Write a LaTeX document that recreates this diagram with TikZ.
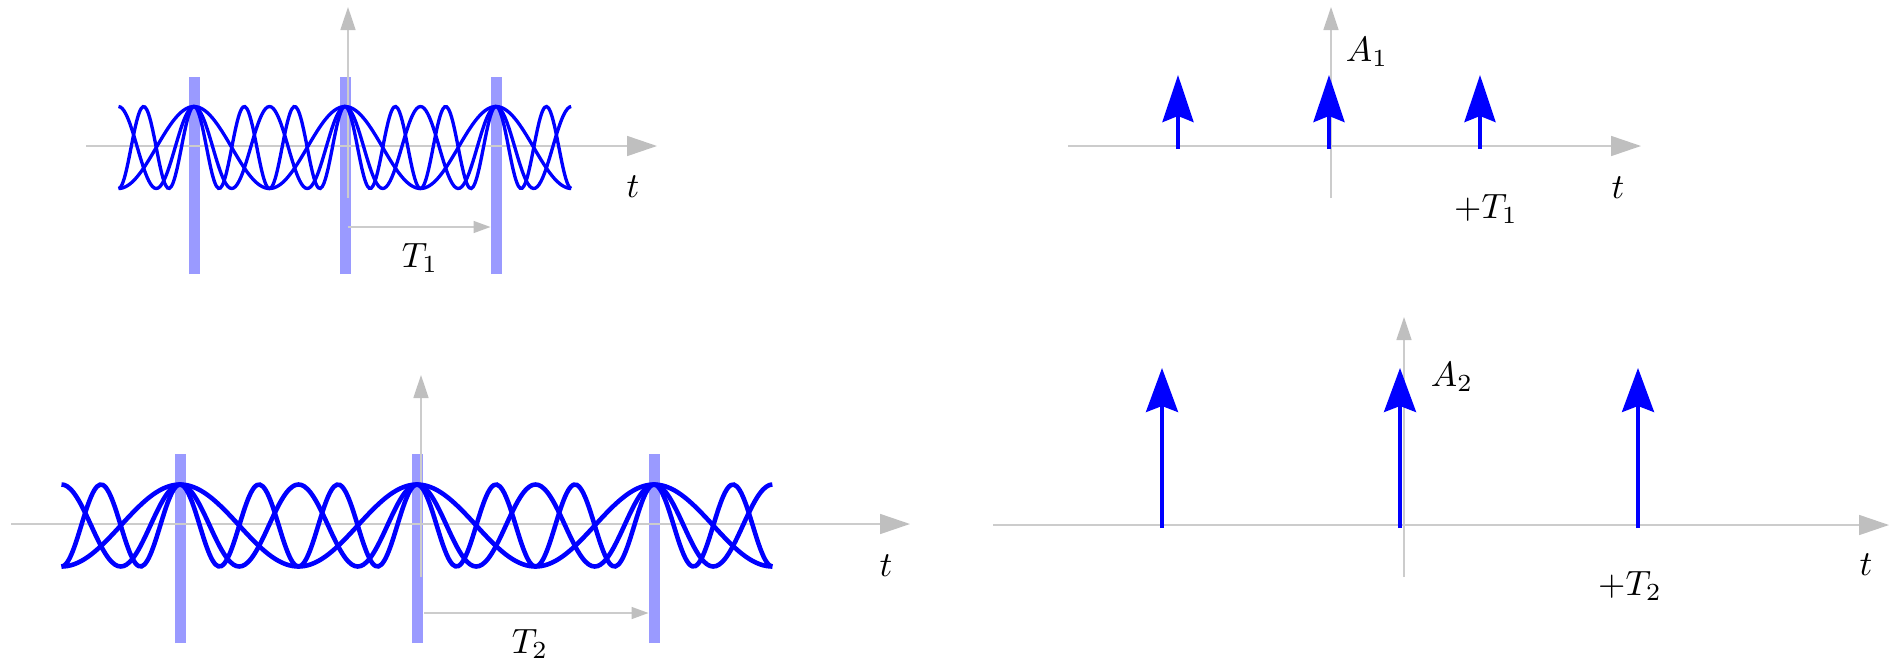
\documentclass[tikz,border=0pt]{standalone}
\usepackage{amsmath}
\usetikzlibrary{arrows.meta}
\definecolor{WaveBlue}{HTML}{0000FF}
\definecolor{BarBlue}{HTML}{9A9AFF}
\definecolor{AxisGray}{HTML}{CCCCCC}
\definecolor{TipGray}{HTML}{BFBFBF}
\tikzset{
  axisline/.style={draw=AxisGray, line width=0.45pt},
  xaxis/.style={axisline, -{Triangle[length=3.0mm,width=2.0mm,color=TipGray]}},
  yaxis/.style={axisline, -{Triangle[length=2.3mm,width=1.5mm,color=TipGray]}},
  periodarrow/.style={axisline, -{Triangle[length=1.7mm,width=1.2mm,color=TipGray]}},
  pulsebar/.style={draw=BarBlue, line width=0.11cm},
  waveline/.style={draw=WaveBlue, smooth, samples=241},
  spike/.style={draw=WaveBlue},
  lbl/.style={inner sep=0pt}
}

\begin{document}
\begin{tikzpicture}[x=1cm,y=1cm]
  \useasboundingbox (0,0) rectangle (18.97,6.63);

  \begin{scope}[shift={(3.45,5.17)}]
    \foreach \n in {-1,0,1}
      \draw[pulsebar] (1.51*\n,-1.28) -- (1.51*\n,0.69);
    \draw[xaxis] (-2.59,0) -- (3.12,0);
    \draw[yaxis] (0.03,-0.52) -- (0.03,1.39);
    \foreach \k in {1,2,3}
      \draw[waveline, line width=0.95pt] plot[domain=-2.265:2.265] (\x,{0.41*cos(360*\k*\x/1.51)-0.015});
    \coordinate (zeroA) at (0.03,-0.81);
    \coordinate (stepA) at (1.455,-0.81);
    \draw[periodarrow] (zeroA) -- (stepA);
    \node[lbl] (timeA) at (2.88,-0.41) {$t$};
    \node[lbl] (periodA) at (0.75,-1.12) {$T_1$};
  \end{scope}

  \begin{scope}[shift={(4.17,1.39)}]
    \foreach \n in {-1,0,1}
      \draw[pulsebar] (2.37*\n,-1.19) -- (2.37*\n,0.70);
    \draw[xaxis] (-4.06,0) -- (4.93,0);
    \draw[yaxis] (0.04,-0.53) -- (0.04,1.49);
    \foreach \k in {1,2,3}
      \draw[waveline, line width=1.3pt] plot[domain=-3.555:3.555] (\x,{0.41*cos(360*\k*\x/2.37)-0.015});
    \coordinate (zeroB) at (0.07,-0.89);
    \coordinate (stepB) at (2.315,-0.89);
    \draw[periodarrow] (zeroB) -- (stepB);
    \node[lbl] (timeB) at (4.69,-0.42) {$t$};
    \node[lbl] (periodB) at (1.13,-1.20) {$T_2$};
  \end{scope}

  \begin{scope}[shift={(13.29,5.17)}]
    \draw[xaxis] (-2.61,0) -- (3.12,0);
    \draw[yaxis] (0.02,-0.52) -- (0.02,1.39);
    \foreach \n in {-1,0,1}
      \draw[spike, line width=1.15pt, -{Stealth[length=4.7mm,width=3.1mm,inset=0.6mm]}] (1.51*\n,-0.03) -- (1.51*\n,0.71);
    \node[lbl] (ampC) at (0.38,0.94) {$A_1$};
    \node[lbl] (shiftC) at (1.57,-0.63) {$\mathbf{+}T_1$};
    \node[lbl] (timeC) at (2.89,-0.42) {$t$};
  \end{scope}

  \begin{scope}[shift={(14.00,1.38)}]
    \draw[xaxis] (-4.07,0) -- (4.89,0);
    \draw[yaxis] (0.04,-0.52) -- (0.04,2.08);
    \foreach \n in {-1,0,1}
      \draw[spike, line width=1.0pt, -{Stealth[length=4.4mm,width=3.2mm,inset=0.6mm]}] (2.38*\n,-0.03) -- (2.38*\n,1.57);
    \node[lbl] (ampD) at (0.52,1.48) {$A_2$};
    \node[lbl] (shiftD) at (2.30,-0.61) {$\mathbf{+}T_2$};
    \node[lbl] (timeD) at (4.66,-0.40) {$t$};
  \end{scope}

\end{tikzpicture}
\end{document}
